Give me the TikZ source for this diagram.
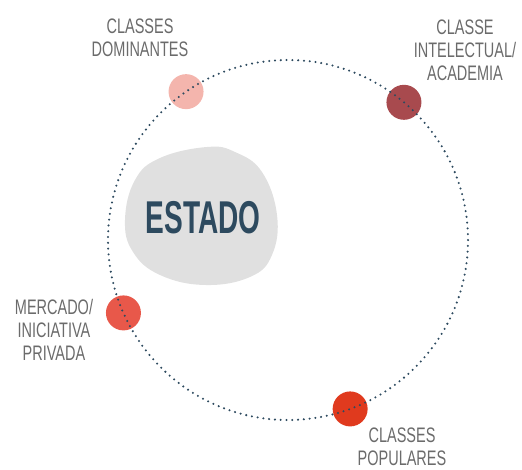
\documentclass[tikz,border=0pt]{standalone}
\usepackage{fontspec}
\newfontfamily\tagfont[FakeStretch=0.69]{Liberation Sans}
\newfontfamily\statefont[FakeStretch=0.61]{Liberation Sans Bold}
\usetikzlibrary{calc}

\definecolor{ink}{HTML}{2D4A5F}
\definecolor{tagtext}{HTML}{6B6B6B}
\definecolor{blobgray}{HTML}{E0E0E0}
\definecolor{domcol}{HTML}{F4B5AD}
\definecolor{intelcol}{HTML}{A84A4E}
\definecolor{mercol}{HTML}{E8584A}
\definecolor{popcol}{HTML}{E03A1E}

\tikzset{
    member/.style={circle, draw=none, minimum size=35pt, inner sep=0pt},
    tag/.style={align=center, text=tagtext, inner sep=0pt,
        font=\tagfont\fontsize{21}{23}\selectfont},
    orbit/.style={draw=ink, line width=2.3pt, line cap=round,
        dash pattern=on 0pt off 5.8pt}
}

\begin{document}
\begin{tikzpicture}[x=1pt, y=1pt]
\useasboundingbox (0,0) rectangle (522,470);

\coordinate (hub) at (288,230);

% the state
\fill [blobgray] plot [smooth cycle, tension=0.7] coordinates {
    (125,250) (135,290) (160,312) (207,323) (235,318) (262,298)
    (277,255) (272,215) (250,193) (205,185) (160,195) (133,218)};
\node [text=ink, font=\statefont\fontsize{46}{46}\selectfont] (estado) at (203,252) {ESTADO};

\foreach \n/\a/\c in {dom/124.5/domcol, intel/49.9/intelcol, mercado/203.9/mercol, pop/290.2/popcol}
    \node [member, fill=\c] (\n) at ($(hub)+(\a:180)$) {};

\draw [orbit] (hub) circle [radius=180];

\node [tag] (dom-label) at (140,432) {CLASSES\\DOMINANTES};
\node [tag] (intel-label) at (465,420) {CLASSE\\INTELECTUAL/\\ACADEMIA};
\node [tag] (mercado-label) at (54,140) {MERCADO/\\INICIATIVA\\PRIVADA};
\node [tag] (pop-label) at (402,23) {CLASSES\\POPULARES};

\end{tikzpicture}
\end{document}
